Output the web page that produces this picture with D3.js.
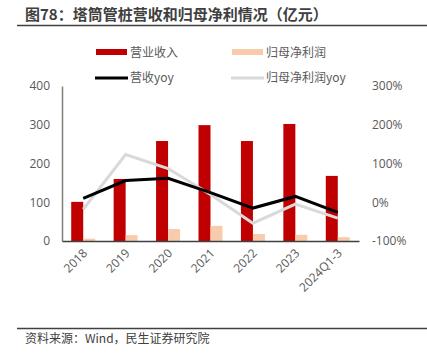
<!DOCTYPE html>
<html><head><meta charset="utf-8">
<script src="https://cdn.jsdelivr.net/npm/d3@7"></script>
<style>body{margin:0;background:#fff;}svg{display:block;font-family:"Noto Sans CJK SC","Noto Sans",sans-serif;}</style>
</head><body>
<svg id="c" width="427" height="355"></svg>
<script>
const categories = ["2018","2019","2020","2021","2022","2023","2024Q1-3"];
const revenue = [101,160,258,299,258,302,168];
const netProfit = [6,15,31,39,18,16,10];
const revenueYoy = [10,56,62,25,-15,15,-26];
const profitYoy = [-18,123,87,20,-54,-5,-41];
const leftTicks = [0,100,200,300,400];
const rightTicks = [-100,0,100,200,300];

const svg = d3.select("#c");
const m = {l:62, r:359, t:86, b:241};
const x = d3.scaleBand().domain(categories).range([m.l, m.r]);
const yL = d3.scaleLinear().domain([0,400]).range([m.b, m.t]);
const yR = d3.scaleLinear().domain([-100,300]).range([m.b, m.t]);
const txt = "#595959";

// title
svg.append("text").attr("x",25).attr("y",20).attr("font-size",15).attr("font-weight","bold").attr("fill","#404040")
  .text("图78：塔筒管桩营收和归母净利情况（亿元）");
svg.append("line").attr("x1",17).attr("x2",427).attr("y1",25.5).attr("y2",25.5).attr("stroke","#404040").attr("stroke-width",1.5);

// bars
const bw = 12;
svg.append("g").selectAll("rect").data(revenue).join("rect")
  .attr("x",(d,i)=>x(categories[i])+x.bandwidth()/2-bw).attr("width",bw)
  .attr("y",d=>yL(d)).attr("height",d=>yL(0)-yL(d)).attr("fill","#C00000");
svg.append("g").selectAll("rect").data(netProfit).join("rect")
  .attr("x",(d,i)=>x(categories[i])+x.bandwidth()/2).attr("width",bw)
  .attr("y",d=>yL(d)).attr("height",d=>yL(0)-yL(d)).attr("fill","#F8CBAD");

// lines
const line = d3.line().x((d,i)=>x(categories[i])+x.bandwidth()/2).y(d=>yR(d));
svg.append("path").datum(profitYoy).attr("d",line).attr("fill","none").attr("stroke","#D9D9D9").attr("stroke-width",3);
svg.append("path").datum(revenueYoy).attr("d",line).attr("fill","none").attr("stroke","#000").attr("stroke-width",3);

// left axis
const ga = svg.append("g").attr("transform",`translate(${m.l},0)`)
  .call(d3.axisLeft(yL).tickValues(leftTicks).tickSize(0).tickPadding(12));
ga.select(".domain").attr("stroke","#7f7f7f").attr("stroke-width",1.5);
ga.selectAll("text").attr("font-size",12).attr("fill",txt).attr("font-family","'Open Sans','Noto Sans',sans-serif");

// right axis
const gr = svg.append("g").attr("transform",`translate(${m.r},0)`)
  .call(d3.axisRight(yR).tickValues(rightTicks).tickSize(0).tickPadding(13).tickFormat(d=>d+"%"));
gr.select(".domain").remove();
gr.selectAll("text").attr("font-size",12).attr("fill",txt).attr("font-family","'Open Sans','Noto Sans',sans-serif");

// bottom axis
const gb = svg.append("g").attr("transform",`translate(0,${m.b})`)
  .call(d3.axisBottom(x).tickSize(0).tickPadding(0));
gb.select(".domain").attr("stroke","#404040").attr("stroke-width",1.5);
gb.selectAll("text").attr("font-size",12).attr("fill",txt).attr("font-family","'Open Sans','Noto Sans',sans-serif")
  .attr("text-anchor","end").attr("dy",0)
  .attr("transform","translate(5,13) rotate(-45)");

// legend
const lg = svg.append("g").attr("font-size",12).attr("fill",txt);
lg.append("rect").attr("x",96).attr("y",49).attr("width",31).attr("height",6).attr("fill","#C00000");
lg.append("text").attr("x",130).attr("y",56.5).attr("fill",txt).text("营业收入");
lg.append("rect").attr("x",232).attr("y",49).attr("width",31).attr("height",6).attr("fill","#F8CBAD");
lg.append("text").attr("x",266).attr("y",56.5).attr("fill",txt).text("归母净利润");
lg.append("line").attr("x1",95).attr("x2",128).attr("y1",78).attr("y2",78).attr("stroke","#000").attr("stroke-width",3);
lg.append("text").attr("x",130).attr("y",82).attr("fill",txt).text("营收yoy");
lg.append("line").attr("x1",231).attr("x2",264).attr("y1",78).attr("y2",78).attr("stroke","#D9D9D9").attr("stroke-width",3);
lg.append("text").attr("x",266).attr("y",82).attr("fill",txt).text("归母净利润yoy");

// footer
svg.append("line").attr("x1",17).attr("x2",427).attr("y1",328.5).attr("y2",328.5).attr("stroke","#404040").attr("stroke-width",1.5);
svg.append("text").attr("x",25).attr("y",343).attr("font-size",12).attr("fill","#404040").text("资料来源：Wind，民生证券研究院");
</script>
</body></html>
